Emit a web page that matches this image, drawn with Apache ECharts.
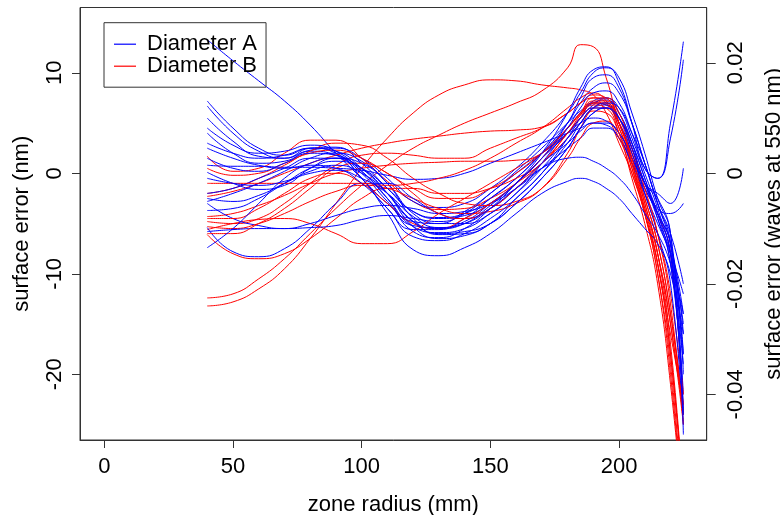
<!DOCTYPE html>
<html><head><meta charset="utf-8">
<script src="https://cdn.jsdelivr.net/npm/echarts@6/dist/echarts.min.js"></script>
<style>html,body{margin:0;padding:0;background:#fff}#c{width:780px;height:515px}</style>
</head><body><div id="c"></div>
<script>
// zone radius (mm) sample positions
const radius = [40,50,60,70,80,90,100,110,120,130,140,150,160,170,180,185,190,195,200,205,210,215,220,225];

// Diameter A profiles (surface error, nm)
const diameterA = [
  [13.3,11.2,9.2,7.2,4.8,2.0,-0.5,-3.0,-4.8,-5.0,-3.8,-2.0,0.2,2.5,5,6.2,7,6.8,5.5,2.5,-1,-4,-9,-19],
  [7.2,4.5,2.5,1.8,2.5,2.0,-0.5,-3.5,-5.6,-5.6,-4.5,-2.5,-0.5,2,4.5,6,7,7.3,6,3,-0.5,-4.5,-9,-22],
  [6.7,4.0,2.2,1.5,2.2,1.8,0,-2.8,-5.2,-5.4,-4.8,-3,-1,1.5,4,5.5,6.8,7.5,6.5,3.5,0,-3.5,-8,-18],
  [5.5,3.2,1.7,1.5,2.5,2.6,1,-1.5,-3.8,-4.4,-4,-2.5,-0.5,2,5,7,8.5,9,8,5,1,-3,-7,-14],
  [4.0,2.0,1.0,1.2,2.3,2.5,1.5,-0.5,-2.8,-3.4,-3.0,-1.5,0.5,3,6,8,10,10.5,9.5,6,2,-2.5,-6,-24],
  [0.8,0.7,0.7,0.6,0.6,0.5,0.3,-0.2,-0.6,-0.5,0,1,2,3,4,4.5,5,4.8,3.5,1,-1.5,-4,-7,-16],
  [0.1,-1.0,-1.6,-1.2,0.5,1.5,1.0,-1.0,-4.0,-5.0,-5.0,-4,-2,0.5,3.5,5,6.5,6.8,5.5,2.5,-1,-4.5,-8,-15],
  [-2.8,-2.0,-1.0,0.2,1.5,2.0,1.2,-1.0,-4.5,-6.1,-6.0,-5,-2.5,0,3.5,5.5,7.2,7.5,6,3,-1,-2.5,-6,-20],
  [-3.0,-4.5,-5.2,-5.5,-5.0,-4.2,-3.5,-3.2,-3.5,-4,-3.8,-3,-1.5,0.5,2.5,3.5,4.5,4.5,3.5,1,-2,-5,-8,-12],
  [-3.7,-3.5,-2.5,-1.0,0.5,1.2,0.5,-1.5,-3.8,-4.5,-4.2,-3,-1,1.5,4,5.5,6.5,6.5,5,2,-2,-6,-11,-25],
  [-5.4,-7.8,-8.3,-7.5,-5.5,-3.0,-1.0,-1.0,-2.5,-4,-4.5,-3.5,-1.5,1,3,4.2,5,5,4,1.5,-1.5,-4,-7,-18],
  [-5.8,-5.6,-5.5,-5.5,-5.4,-5.2,-4.6,-4.2,-4.5,-4.8,-4,-2,0,2,4,5,5.5,5.2,4,1.5,-1,-3.5,-4,-3],
  [-7.4,-5.5,-3.0,-0.5,1.0,1.5,0.5,-2.0,-5.3,-6.5,-6.2,-5,-3,-0.5,2.5,4.5,6,6.5,5.5,2.5,-1,-2,-3,0.5],
  [-2.0,-1.5,-0.5,0.5,1.5,1.5,-0.5,-4.0,-7.6,-8.2,-7.4,-6,-4,-2,-0.8,-0.5,-0.8,-1.5,-2.5,-4,-5.5,-7,-10,-16],
  [1.5,0.5,0.2,1.0,2.0,1.8,0.2,-2.5,-5.8,-6.4,-5.5,-3.5,-1,2,6,8.5,10.3,10.6,9,5,0.5,-0.5,5,13.1],
  [4.5,2.8,2.0,2.2,2.8,2.2,0.2,-2.5,-5.3,-5.9,-5.5,-4,-2,1,4.5,6.5,8,8.2,7,4,0.5,-0.5,3.5,11.3],
  [-0.5,-1.0,-1.2,-0.8,0,0.3,-0.5,-2,-4.3,-5.4,-5,-3.5,-1.5,0.5,1.5,1.6,1.2,0.5,-0.5,-2,-4,-6,-9,-14],
  [-2.5,-2.8,-2.2,-1.0,0.2,0.8,0,-2,-4.8,-6,-5.8,-5,-3,-0.5,2.5,4.5,6,6.5,5.5,3,-0.5,-4,-8,-24],
  [2.5,1.5,0.8,0.5,0.8,0.5,-1,-3.5,-6.3,-6.7,-6.0,-4.5,-2.5,0,3,5,6.5,7,6.5,4,1,-3,-6,-11],
  [3.0,2.0,1.5,1.8,2.5,2.2,0.5,-2,-4.8,-5.5,-5,-3.2,-1,1.5,5,7.5,9.5,9.8,8.5,5,1,-3,-7,-26]
];

// Diameter B profiles (surface error, nm)
const diameterB = [
  [-12.4,-12.0,-10.5,-8.5,-6.0,-3.5,-1.2,0.8,2.5,3.8,5.0,6.0,7.0,8.2,10.5,12.8,12.6,9.5,5,2,-1,-4,-8,-24],
  [-13.2,-12.8,-11.5,-9.5,-6.5,-3.0,0.5,3.5,6.0,7.8,8.8,9.3,9.2,8.8,8.5,8.3,7.8,6,3,0,-4,-10,-19,-34],
  [1.7,0.2,0.5,2.0,3.3,3.3,1.5,-0.8,-2.8,-3.6,-3.5,-2.5,-1,1,3.5,5,6.2,6,4,0.5,-3.5,-8,-15,-25],
  [-2.3,-1.8,-1.0,0,1.0,1.8,2.5,3.0,3.4,3.7,4.0,4.2,4.3,4.6,6,7,7.5,7,5,1.5,-2.5,-7,-14,-23],
  [-4.3,-4.0,-3.2,-2.2,-1.0,0,0.5,0.8,1.0,1.1,1.2,1.2,1.3,2,4.5,6,7,6.8,4.5,1,-3,-8,-15,-24],
  [-4.8,-5.0,-4.5,-3.0,-1,0.8,1.8,2.0,1.8,1.5,1.5,2.5,3.5,4.5,6,7,7.8,7.5,5.5,2,-2,-6,-12,-22],
  [-5.6,-5.0,-4.6,-4.5,-5.0,-6.0,-7.0,-7.0,-5.8,-4.0,-2.5,-1,0.5,2,4,5.5,6.5,6.5,4.5,0.5,-4,-9,-18,-32],
  [-6.1,-8.0,-8.5,-8.0,-6.5,-4.5,-2.5,-1.5,-1.5,-2.0,-2.0,-1.5,-0.5,1,4,5.5,7,7,5,1.5,-2.5,-7,-14,-24],
  [-5.3,-5.5,-5.0,-4.0,-2.8,-1.8,-1.2,-1.5,-2.5,-3.5,-4.0,-3.8,-3.0,-1.5,2,4.5,6.5,7,5,1,-3.5,-9,-18,-32],
  [-2.0,-1.5,-0.5,0.8,2.2,3.0,2.8,1.5,-0.5,-2,-3,-3.2,-2.8,-1.5,1.5,3.5,5,5.2,3.5,0,-4,-9,-16,-23],
  [-4.5,-4.5,-3.5,-2.0,-0.5,0,-1.0,-3.0,-5.0,-5.5,-4.5,-3,-1,1.5,4.5,6,7.5,7.5,6,2.5,-1.5,-6,-13,-25],
  [-6.0,-6.0,-5.0,-3.5,-1.5,0.5,1.0,0,-2.0,-4.0,-4.5,-3.5,-1.5,1,4,5.8,7.2,7.2,5,1,-4,-10,-20,-34],
  [0.5,-0.2,0,1.0,2.0,2.3,1.5,0,-1.5,-2.5,-2.5,-1.5,0,2,4.5,5.8,6.8,6.5,4,-0.5,-5,-11,-21,-34],
  [-1.0,-1.0,-1.0,-1.0,-1.0,-1.0,-1.0,-1.2,-1.0,-0.5,0.3,1.5,3,4.5,6.5,7.5,8,7.2,5,1.5,-3,-8,-17,-32]
];

const xTicks = [0, 50, 100, 150, 200];
const nmTicks = [-20, -10, 0, 10];
const waveTicks = [-0.04, -0.02, 0, 0.02];

const FONT = 'Liberation Sans, Arial, sans-serif';
const NM_MIN = -26.54, NM_MAX = 16.5;

const series = [];
const n = Math.max(diameterA.length, diameterB.length);
function mk(name, color, vals) {
  return {
    name: name, type: 'line', yAxisIndex: 0, xAxisIndex: 0,
    data: radius.map((r, i) => [r, vals[i]]),
    showSymbol: false, symbol: 'none', smooth: true,
    lineStyle: { color: color, width: 1 },
    itemStyle: { color: color },
    emphasis: { disabled: true }, silent: true
  };
}
for (let i = 0; i < n; i++) {
  if (diameterA[i]) series.push(mk('Diameter A', '#0000ff', diameterA[i]));
  if (diameterB[i]) series.push(mk('Diameter B', '#ff0000', diameterB[i]));
}

const chart = echarts.init(document.getElementById('c'), null, { renderer: 'canvas' });
chart.setOption({
  animation: false,
  backgroundColor: '#fff',
  textStyle: { fontFamily: FONT },
  grid: { left: 80, right: 73.3, top: 7.5, bottom: 75, show: true, borderColor: '#333', borderWidth: 1, containLabel: false, outerBoundsMode: 'none' },
  legend: {
    data: ['Diameter A', 'Diameter B'],
    orient: 'vertical', left: 104, top: 22.7,
    padding: [10.5, 9, 10, 10],
    itemGap: 0, itemWidth: 22, itemHeight: 1.2, icon: 'rect',
    borderColor: '#333', borderWidth: 1, borderRadius: 0,
    backgroundColor: 'transparent',
    selectedMode: false,
    textStyle: { fontSize: 22, lineHeight: 17, color: '#000', fontFamily: FONT, padding: [0, 0, 0, 6] }
  },
  xAxis: {
    type: 'value', min: -9.44, max: 234.06,
    name: 'zone radius (mm)', nameLocation: 'middle', nameGap: 54,
    nameTextStyle: { fontSize: 22, color: '#000', fontFamily: FONT },
    axisLine: { show: true, onZero: false, lineStyle: { color: '#333' } },
    axisTick: { show: true, length: 8, lineStyle: { color: '#333' }, customValues: xTicks },
    axisLabel: { fontSize: 22, color: '#000', margin: 16, customValues: xTicks, formatter: v => String(v) },
    splitLine: { show: false }
  },
  yAxis: [{
    type: 'value', min: NM_MIN, max: NM_MAX, position: 'left',
    name: 'surface error (nm)', nameLocation: 'middle', nameGap: 47,
    nameTextStyle: { fontSize: 22, color: '#000', fontFamily: FONT },
    axisLine: { show: true, onZero: false, lineStyle: { color: '#333' } },
    axisTick: { show: true, length: 8, lineStyle: { color: '#333' }, customValues: nmTicks },
    axisLabel: { fontSize: 22, color: '#000', rotate: 90, margin: 14, customValues: nmTicks, formatter: v => String(v) },
    splitLine: { show: false }
  }, {
    type: 'value', min: NM_MIN / 550, max: NM_MAX / 550, position: 'right',
    name: 'surface error (waves at 550 nm)', nameLocation: 'middle', nameGap: 56,
    nameTextStyle: { fontSize: 22, color: '#000', fontFamily: FONT },
    axisLine: { show: true, onZero: false, lineStyle: { color: '#333' } },
    axisTick: { show: true, length: 9, lineStyle: { color: '#333' }, customValues: waveTicks },
    axisLabel: { fontSize: 22, color: '#000', rotate: 90, margin: 18, customValues: waveTicks, formatter: v => (v === 0 ? '0' : String(v)) },
    splitLine: { show: false }
  }],
  series: series
});
</script>
</body></html>
